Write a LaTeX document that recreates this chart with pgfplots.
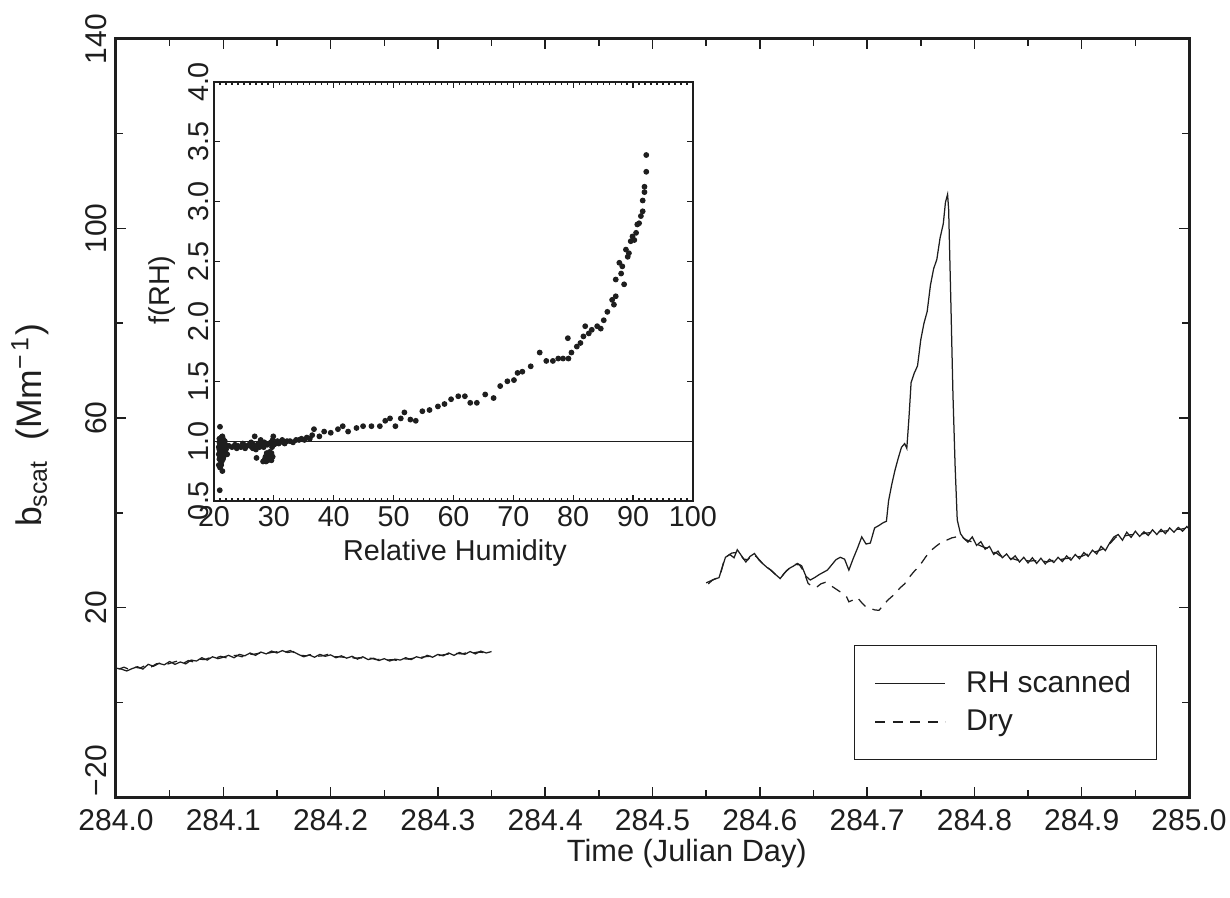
\documentclass[border=0pt]{standalone}
\usepackage{fontspec}
\setmainfont{Liberation Sans}
\usepackage{pgfplots}
\pgfplotsset{compat=1.18}
\definecolor{ink}{HTML}{1E1E1E}
\begin{document}
\begin{tikzpicture}
\useasboundingbox (-46.4pt,-40pt) rectangle (445.6pt,318.8pt);
\begin{axis}[
  name=main, at={(0,0)}, anchor=south west,
  scale only axis, width=429.2pt, height=303.2pt,
  xmin=284, xmax=285, ymin=-20, ymax=140,
  unbounded coords=jump,
  xtick={284.0,284.1,284.2,284.3,284.4,284.5,284.6,284.7,284.8,284.9,285.0},
  xticklabels={284.0,284.1,284.2,284.3,284.4,284.5,284.6,284.7,284.8,284.9,285.0},
  minor xtick={284.05,284.15,284.25,284.35,284.45,284.55,284.65,284.75,284.85,284.95},
  ytick={-20,20,60,100,140},
  yticklabels={\hspace*{21pt}−20,20,60,100,140},
  minor ytick={0,40,80,120},
  tick align=inside, tick pos=both,
  major tick length=4pt, minor tick length=3pt,
  axis line style={line width=1.2pt, ink},
  every tick/.style={line width=0.6pt, ink},
  ticklabel style={font=\fontsize{12}{14}\selectfont, text=ink},
  xticklabel style={yshift=-1.5pt},
  yticklabel style={rotate=90, anchor=south},
  xlabel={Time (Julian Day)},
  ylabel={b\textsubscript{scat}\ \ (Mm\textsuperscript{−\,1})},
  label style={text=ink},
  xlabel style={font=\fontsize{12.3}{14}\selectfont, at={(axis description cs:0.532,-0.075)}, anchor=center},
  ylabel style={font=\fontsize{14.2}{16}\selectfont, at={(axis description cs:-0.080,0.49)}, anchor=center, rotate=0},
  legend style={at={(rel axis cs:0.688,0.2005)}, anchor=north west, draw=ink, line width=0.5pt,
     inner xsep=8pt, inner ysep=8pt, row sep=1.5pt, font=\fontsize{12}{14}\selectfont, text=ink},
  legend cell align=left,
  legend image code/.code={\draw[#1, line width=0.5pt] (0pt,0pt) -- (28pt,0pt); \path (34pt,0pt);},
]
\addplot[ink, line width=0.5pt] coordinates {
(284.000,7.2) (284.005,7.0) (284.010,6.6) (284.015,7.1) (284.020,7.5) (284.025,7.0)
(284.030,8.0) (284.035,7.6) (284.040,8.2) (284.045,7.9) (284.050,8.6) (284.055,8.0)
(284.060,8.5) (284.065,8.1) (284.070,8.9) (284.075,8.7) (284.080,9.4) (284.085,8.9)
(284.090,9.6) (284.095,9.2) (284.100,9.5) (284.105,9.9) (284.110,9.4) (284.115,10.1)
(284.120,9.8) (284.125,10.4) (284.130,9.9) (284.135,10.6) (284.140,10.2) (284.145,10.8)
(284.150,10.4) (284.155,10.9) (284.160,10.5) (284.165,10.7) (284.170,10.1) (284.175,9.6)
(284.180,10.0) (284.185,9.5) (284.190,10.1) (284.195,9.7) (284.200,10.0) (284.205,9.4)
(284.210,9.8) (284.215,9.3) (284.220,9.7) (284.225,9.1) (284.230,9.6) (284.235,9.0)
(284.240,9.3) (284.245,8.8) (284.250,9.2) (284.255,8.7) (284.260,9.1) (284.265,8.9)
(284.270,9.4) (284.275,9.0) (284.280,9.6) (284.285,9.3) (284.290,9.9) (284.295,9.5)
(284.300,10.1) (284.305,9.8) (284.310,10.4) (284.315,9.9) (284.320,10.5) (284.325,10.1)
(284.330,10.7) (284.335,10.2) (284.340,10.8) (284.345,10.4) (284.350,10.7)
(284.450,nan)
(284.550,25.2) (284.554,25.6) (284.558,26.0) (284.562,26.3) (284.565,28.5) (284.568,30.6)
(284.572,31.2) (284.576,30.5) (284.579,32.2) (284.583,30.9) (284.587,29.6) (284.591,30.8)
(284.595,31.4) (284.599,30.1) (284.603,29.2) (284.607,28.4) (284.611,27.8) (284.615,26.9)
(284.619,26.1) (284.623,27.3) (284.627,28.2) (284.631,28.7) (284.635,29.3) (284.639,28.8)
(284.643,26.6) (284.647,25.8) (284.651,26.3) (284.655,26.9) (284.659,27.4) (284.663,27.9)
(284.667,29.0) (284.671,30.1) (284.675,30.6) (284.679,30.2) (284.683,27.9) (284.687,30.3)
(284.691,32.5) (284.695,34.9) (284.699,33.4) (284.703,33.6) (284.707,36.8) (284.711,37.3)
(284.715,37.9) (284.718,38.2) (284.720,42.5) (284.723,46.0) (284.726,49.0) (284.729,51.5)
(284.732,53.8) (284.735,54.6) (284.737,53.6) (284.739,60.0) (284.741,67.5) (284.744,69.5)
(284.747,71.0) (284.750,76.5) (284.753,80.0) (284.756,82.5) (284.759,88.0) (284.762,91.5)
(284.765,93.5) (284.768,98.0) (284.771,101.0) (284.773,105.5) (284.775,107.2) (284.776,104.0)
(284.778,85.0) (284.780,65.0) (284.782,50.0) (284.784,38.5) (284.787,35.6) (284.790,34.6)
(284.794,33.8) (284.798,34.9) (284.802,33.1) (284.806,33.9) (284.810,32.3) (284.814,32.9)
(284.818,31.2) (284.822,31.9) (284.826,30.5) (284.830,31.3) (284.834,30.1) (284.838,30.9)
(284.842,29.6) (284.846,30.6) (284.850,29.4) (284.854,30.5) (284.858,29.3) (284.862,30.4)
(284.866,29.2) (284.870,30.2) (284.874,29.5) (284.878,30.6) (284.882,29.7) (284.886,30.9)
(284.890,30.0) (284.894,31.2) (284.898,30.3) (284.902,31.6) (284.906,30.8) (284.910,32.1)
(284.914,31.3) (284.918,32.9) (284.922,32.0) (284.926,33.6) (284.930,34.9) (284.934,35.4)
(284.938,34.2) (284.942,35.9) (284.946,34.8) (284.950,36.1) (284.954,35.0) (284.958,36.0)
(284.962,35.2) (284.966,36.4) (284.970,35.4) (284.974,36.5) (284.978,35.6) (284.982,36.8)
(284.986,35.9) (284.990,36.9) (284.994,36.1) (284.998,37.1) (285.000,36.6)
};
\addlegendentry{RH scanned}
\addplot[ink, line width=0.5pt, dash pattern=on 4pt off 3pt] coordinates {
(284.0025,7.0) (284.0075,7.4) (284.0125,6.9) (284.0175,7.4) (284.0225,7.2) (284.0275,7.8)
(284.0325,7.4) (284.0375,8.1) (284.0425,8.3) (284.0475,8.0) (284.0525,8.4) (284.0575,8.7)
(284.0625,8.2) (284.0675,8.8) (284.0725,8.5) (284.0775,9.1) (284.0825,9.0) (284.0875,9.4)
(284.0925,9.3) (284.0975,9.7) (284.1025,9.4) (284.1075,9.8) (284.1125,9.9) (284.1175,9.6)
(284.1225,10.2) (284.1275,10.1) (284.1325,10.3) (284.1375,10.5) (284.1425,10.4) (284.1475,10.6)
(284.1525,10.7) (284.1575,10.6) (284.1625,10.9) (284.1675,10.3) (284.1725,9.9) (284.1775,9.8)
(284.1825,10.1) (284.1875,9.7) (284.1925,9.8) (284.1975,10.1) (284.2025,9.6) (284.2075,9.6)
(284.2125,9.5) (284.2175,9.6) (284.2225,9.3) (284.2275,9.4) (284.2325,9.2) (284.2375,9.3)
(284.2425,9.0) (284.2475,9.1) (284.2525,8.9) (284.2575,9.0) (284.2625,8.8) (284.2675,9.2)
(284.2725,9.1) (284.2775,9.3) (284.2825,9.4) (284.2875,9.6) (284.2925,9.7) (284.2975,9.8)
(284.3025,9.9) (284.3075,10.1) (284.3125,10.2) (284.3175,10.3) (284.3225,10.2) (284.3275,10.5)
(284.3325,10.4) (284.3375,10.6) (284.3425,10.5) (284.3475,10.8)
(284.450,nan)
(284.552,25.0) (284.556,25.8) (284.560,26.2) (284.564,27.6) (284.567,30.2) (284.570,30.9)
(284.574,31.5) (284.578,31.6) (284.581,31.4) (284.585,30.2) (284.589,30.1) (284.593,31.2)
(284.597,30.7) (284.601,29.7) (284.605,28.8) (284.609,28.1) (284.613,27.3) (284.617,26.5)
(284.621,26.7) (284.625,27.8) (284.629,28.4) (284.633,29.1) (284.637,29.0) (284.641,27.6)
(284.645,25.1) (284.649,24.4) (284.653,24.3) (284.657,25.0) (284.661,25.3) (284.665,24.8)
(284.669,24.2) (284.673,23.6) (284.677,23.0) (284.681,22.2) (284.683,21.2) (284.687,21.6)
(284.691,22.1) (284.695,21.0) (284.699,20.1) (284.703,19.8) (284.707,19.5) (284.711,19.4)
(284.715,20.4) (284.719,21.5) (284.723,22.3) (284.727,23.2) (284.731,24.2) (284.735,25.0)
(284.739,26.3) (284.743,27.4) (284.747,28.4) (284.751,29.5) (284.755,30.8) (284.759,31.9)
(284.763,32.7) (284.767,33.4) (284.771,33.9) (284.775,34.3) (284.779,34.7) (284.783,34.9)
(284.787,35.2) (284.792,34.3) (284.796,34.0) (284.800,33.6) (284.804,33.2) (284.808,32.8)
(284.812,32.5) (284.816,31.6) (284.820,31.6) (284.824,30.9) (284.828,30.7) (284.832,30.4)
(284.836,30.3) (284.840,30.0) (284.844,30.1) (284.848,29.9) (284.852,29.8) (284.856,29.9)
(284.860,29.7) (284.864,29.8) (284.868,29.6) (284.872,29.9) (284.876,30.0) (284.880,30.1)
(284.884,30.3) (284.888,30.4) (284.892,30.6) (284.896,30.7) (284.900,30.8) (284.904,31.2)
(284.908,31.3) (284.912,31.7) (284.916,32.0) (284.920,32.4) (284.924,32.9) (284.928,33.9)
(284.932,34.9) (284.936,34.8) (284.940,35.1) (284.944,35.3) (284.948,35.4) (284.952,35.6)
(284.956,35.5) (284.960,35.7) (284.964,35.8) (284.968,35.9) (284.972,36.0) (284.976,36.1)
(284.980,36.2) (284.984,36.3) (284.988,36.5) (284.992,36.5) (284.996,36.7) (285.000,36.8)
};
\addlegendentry{Dry}
\end{axis}
\begin{axis}[
  at={(39.2pt,118.4pt)}, anchor=south west,
  scale only axis, width=191.6pt, height=167.6pt,
  xmin=20, xmax=100, ymin=0.5, ymax=4,
  xtick={20,30,40,50,60,70,80,90,100},
  xticklabels={20,30,40,50,60,70,80,90,100},
  minor x tick num=9,
  ytick={0.5,1,1.5,2,2.5,3,3.5,4},
  yticklabels={0.5,1.0,1.5,2.0,2.5,3.0,3.5,4.0},
  tick align=inside, tick pos=both,
  major tick length=2.5pt, minor tick length=1.2pt,
  axis line style={line width=1.1pt, ink},
  every tick/.style={line width=0.5pt, ink},
  ticklabel style={font=\fontsize{11.5}{13}\selectfont, text=ink},
  yticklabel style={rotate=90, anchor=south, inner sep=2pt},
  xticklabel style={inner sep=2pt},
  xlabel={Relative Humidity},
  ylabel={f(RH)},
  label style={font=\fontsize{11.5}{13}\selectfont, text=ink},
  xlabel style={at={(axis description cs:0.503,-0.124)}, anchor=center},
  ylabel style={at={(axis description cs:-0.109,0.504)}, anchor=center, rotate=0},
]
\addplot[ink, line width=0.4pt] coordinates {(20,1) (100,1)};
\addplot[only marks, mark=*, mark size=0.95pt, ink, mark options={fill=ink, draw=ink}] coordinates {
(20.96,0.59) (21.0,1.12) (20.8,0.80) (20.9,0.85) (21.0,0.88) (21.1,0.92) (21.2,0.95)
(21.0,0.97) (21.3,0.99) (21.1,1.01) (20.9,0.93) (21.4,0.90) (21.2,0.86) (21.5,0.96)
(21.3,0.83) (21.0,0.78) (21.4,0.75) (21.6,0.98) (21.5,1.02) (21.7,0.94) (21.8,0.91)
(21.2,1.03) (21.6,0.87) (21.1,0.96) (21.3,0.94) (21.7,0.99) (21.9,0.97) (22.2,0.89)
(22.0,0.93) (20.9,0.99) (21.2,0.90) (21.4,0.98) (21.0,0.91) (21.3,0.88) (21.5,0.92)
(20.8,0.95) (20.8,0.89) (21.1,0.84) (21.6,0.93) (21.8,1.00) (21.4,1.04) (20.9,1.02)
(21.2,0.80) (21.5,0.85) (21.7,0.90) (22.1,0.96) (21.9,0.93) (21.1,0.98) (21.3,1.01)
(22.5,0.96) (23.0,0.95) (23.5,0.97) (24.0,0.96) (24.5,0.95) (25.0,0.97) (25.5,0.96)
(26.0,0.98) (26.3,0.95) (26.8,1.04) (26.6,0.97) (27.0,0.93) (27.1,0.86) (27.4,0.98)
(27.8,1.01) (27.9,0.96) (28.2,0.83) (28.4,0.99) (28.6,0.87) (28.8,0.90) (28.9,0.97)
(29.2,0.86) (29.4,0.88) (29.6,0.90) (29.5,0.99) (29.8,1.01) (29.9,1.04) (29.7,0.95)
(29.0,0.84) (28.5,0.85) (29.3,0.91) (28.0,0.97) (27.6,0.95) (26.2,0.99) (25.2,0.94)
(28.7,0.83) (29.1,0.88) (29.4,0.85) (29.8,0.87) (29.6,0.84) (28.3,0.95) (24.8,0.98)
(23.8,0.94) (26.5,0.94) (27.3,0.96) (30.0,0.97) (30.8,0.98)
(30.3,0.98) (30.6,1.00) (31.0,0.99) (31.4,1.01) (31.8,0.98) (32.2,1.00) (32.7,1.00)
(33.2,0.99) (33.7,1.01) (34.2,1.01) (34.6,1.02) (35.1,1.01) (35.5,1.03) (36.0,1.02)
(36.4,1.05)
(36.7,1.10) (37.6,1.04) (38.4,1.08) (39.5,1.07) (40.7,1.10) (41.5,1.125) (42.4,1.08)
(43.8,1.11) (44.9,1.125) (46.3,1.125) (47.7,1.125) (48.6,1.17) (49.4,1.19) (50.3,1.125)
(51.2,1.19) (51.8,1.24) (52.8,1.18) (53.7,1.17) (54.8,1.25) (56.0,1.26) (57.4,1.29)
(58.5,1.31) (59.6,1.35) (60.8,1.375) (61.9,1.375) (62.8,1.32) (63.9,1.32) (65.3,1.39)
(66.7,1.36) (67.8,1.46) (69.0,1.50) (70.1,1.51) (70.7,1.57) (71.5,1.58) (72.9,1.625)
(74.4,1.74) (75.5,1.67) (76.6,1.67) (77.5,1.69) (78.3,1.69) (79.1,1.86) (79.2,1.69)
(79.7,1.74) (80.6,1.79) (81.2,1.82) (81.7,1.875) (82.0,1.96) (82.6,1.90) (83.1,1.93)
(84.0,1.96) (84.6,1.94) (85.1,2.01) (85.7,2.08) (86.5,2.18) (86.8,2.14) (87.1,2.21)
(87.1,2.35) (87.7,2.49) (88.0,2.40) (88.2,2.46) (88.5,2.31) (88.8,2.60) (89.1,2.54)
(89.3,2.57) (89.6,2.67) (89.9,2.71) (90.2,2.68) (90.5,2.74) (90.7,2.81) (91.0,2.82)
(91.3,2.88) (91.6,2.92) (91.6,3.01) (91.9,3.08) (91.9,3.125) (92.2,3.25) (92.2,3.39)
};
\end{axis}
\end{tikzpicture}
\end{document}
